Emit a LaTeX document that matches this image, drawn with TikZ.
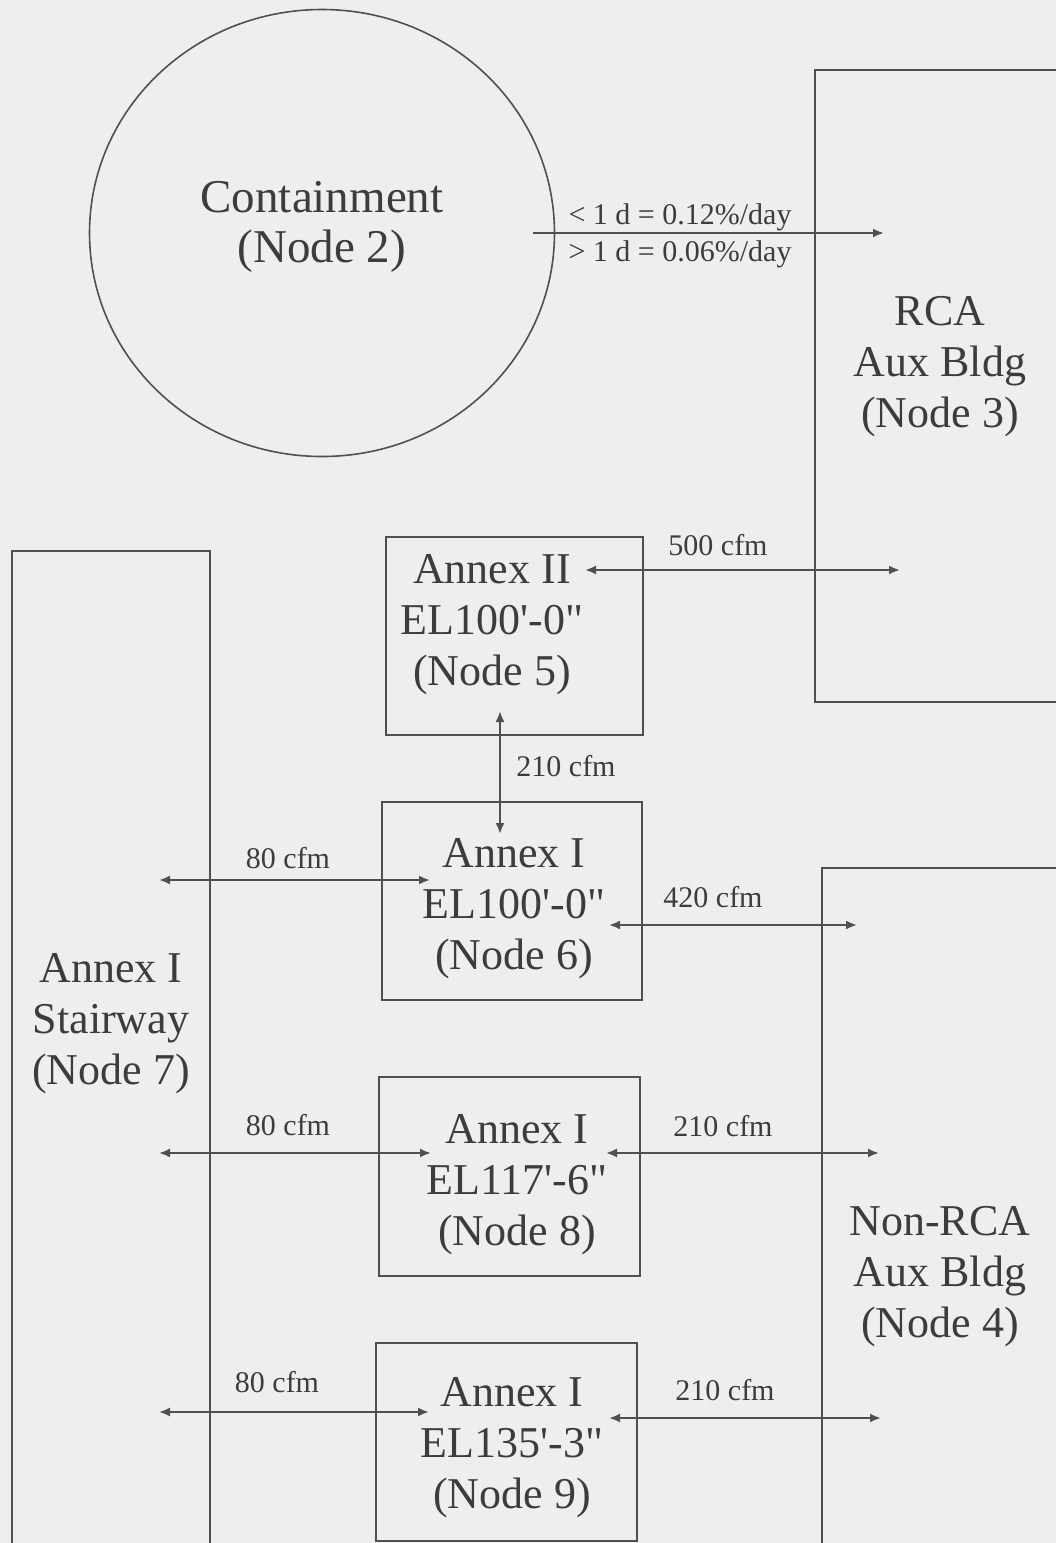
\documentclass[tikz,border=0pt]{standalone}
\usepackage{fontspec}
\setmainfont{Liberation Serif}
\usetikzlibrary{arrows.meta,shapes.geometric}
\definecolor{bg}{RGB}{238,238,238}
\definecolor{ink}{RGB}{80,80,80}
\definecolor{txt}{RGB}{60,60,60}
\newcommand{\sq}{\textquotesingle}
\newcommand{\dq}{\textquotedbl}
\begin{document}
\begin{tikzpicture}[x=1pt,y=-1pt,
  wall/.style={draw=ink, line width=2pt, rectangle, inner sep=0pt, outer sep=0pt},
  big/.style={text=txt, font=\fontsize{44}{51}\selectfont, align=center, inner sep=0pt},
  small/.style={text=txt, font=\fontsize{30}{34}\selectfont, inner sep=0pt},
  tip/.tip={Latex[length=11pt,width=9pt]},
  flow/.style={draw=ink, line width=2pt, -tip},
  flowtwo/.style={draw=ink, line width=2pt, tip-tip}]
\useasboundingbox (0,0) rectangle (1056,1543);
\fill[bg] (0,0) rectangle (1056,1543);
\clip (0,0) rectangle (1056,1543);

% shapes
\node[draw=ink, line width=1.6pt, ellipse, minimum width=465pt, minimum height=447pt, inner sep=0pt] (n2) at (322,233) {};
\node[wall, minimum width=260pt, minimum height=632pt] (n3) at (945,386) {};
\node[wall, minimum width=253pt, minimum height=732pt] (n4) at (948.5,1234) {};
\node[wall, minimum width=198pt, minimum height=1049pt] (n7) at (111,1075.5) {};
\node[wall, minimum width=257pt, minimum height=198pt] (n5) at (514.5,636) {};
\node[wall, minimum width=260pt, minimum height=198pt] (n6) at (512,901) {};
\node[wall, minimum width=261pt, minimum height=199pt] (n8) at (509.5,1176.5) {};
\node[wall, minimum width=261pt, minimum height=198pt] (n9) at (506.5,1442) {};

% texts
\node[big, font=\fontsize{47}{50}\selectfont] (t2) at (322,227) {Containment\\(Node 2)};
\node[big] (t3) at (940,367) {RCA\\Aux Bldg\\(Node 3)};
\node[big] (t4) at (940,1277) {Non-RCA\\Aux Bldg\\(Node 4)};
\node[big] (t7) at (111,1024) {Annex I\\Stairway\\(Node 7)};
\node[big] (t5) at (492,625) {Annex II\\EL100\sq-0\dq\\(Node 5)};
\node[big] (t6) at (514,909) {Annex I\\EL100\sq-0\dq\\(Node 6)};
\node[big] (t8) at (517,1185) {Annex I\\EL117\sq-6\dq\\(Node 8)};
\node[big] (t9) at (512,1448) {Annex I\\EL135\sq-3\dq\\(Node 9)};

% flow labels
\node[small] (l2a) at (680,217) {< 1 d = 0.12\%/day};
\node[small] (l2b) at (680,254) {> 1 d = 0.06\%/day};
\node[small] (l35) at (718,545) {500 cfm};
\node[small] (l56) at (566,766) {210 cfm};
\node[small] (l76) at (288,858) {80 cfm};
\node[small] (l64) at (713,897) {420 cfm};
\node[small] (l78) at (288,1125) {80 cfm};
\node[small] (l84) at (723,1126) {210 cfm};
\node[small] (l79) at (277,1382) {80 cfm};
\node[small] (l94) at (725,1390) {210 cfm};

% connector ends
\coordinate (c2a) at (533,233);   \coordinate (c2b) at (884,233);
\coordinate (c5a) at (585,570);   \coordinate (c5b) at (900,570);
\coordinate (c56a) at (500,711);  \coordinate (c56b) at (500,834);
\coordinate (c76a) at (159,880);  \coordinate (c76b) at (430,880);
\coordinate (c64a) at (609,925);  \coordinate (c64b) at (857,925);
\coordinate (c78a) at (159,1153); \coordinate (c78b) at (431,1153);
\coordinate (c84a) at (606,1153); \coordinate (c84b) at (879,1153);
\coordinate (c79a) at (159,1412); \coordinate (c79b) at (429,1412);
\coordinate (c94a) at (609,1418); \coordinate (c94b) at (881,1418);

\draw[flow] (c2a) -- (c2b);
\draw[flowtwo] (c5a) -- (c5b);
\draw[flowtwo] (c56a) -- (c56b);
\draw[flowtwo] (c76a) -- (c76b);
\draw[flowtwo] (c64a) -- (c64b);
\draw[flowtwo] (c78a) -- (c78b);
\draw[flowtwo] (c84a) -- (c84b);
\draw[flowtwo] (c79a) -- (c79b);
\draw[flowtwo] (c94a) -- (c94b);
\end{tikzpicture}
\end{document}
